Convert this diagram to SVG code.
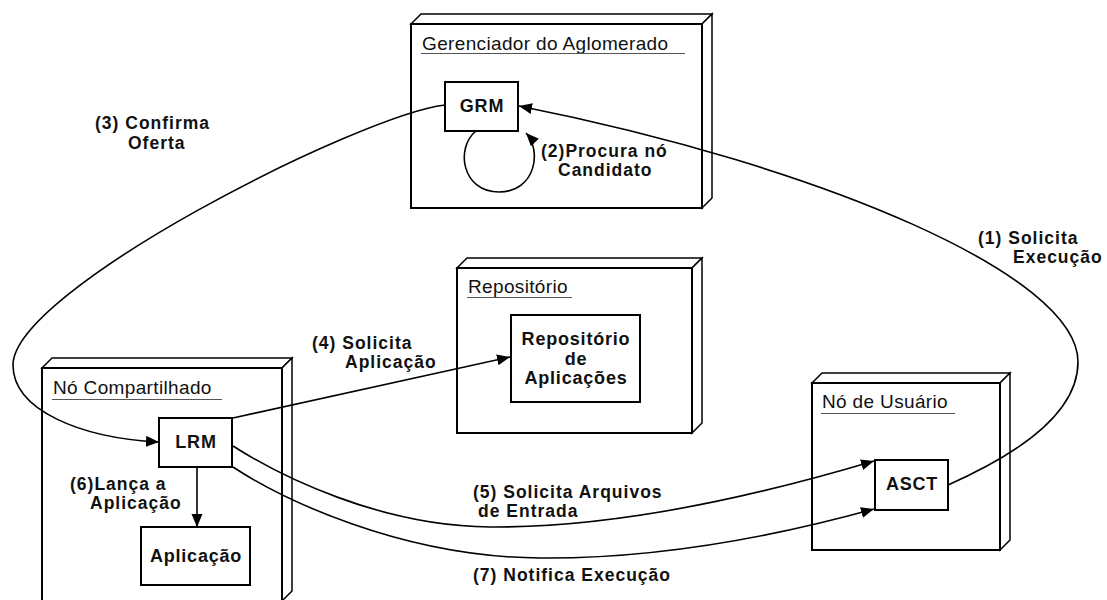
<svg xmlns="http://www.w3.org/2000/svg" width="1107" height="600" viewBox="0 0 1107 600">
<defs>
<marker id="arr" markerUnits="userSpaceOnUse" markerWidth="14" markerHeight="12" refX="13" refY="5.5" orient="auto">
<path d="M0,0 L13,5.5 L0,11 z" fill="#000"/>
</marker>
<style>
.bg{fill:#fff}
.front{fill:#fff;stroke:#000;stroke-width:2}
.side{fill:#fff;stroke:#000;stroke-width:1.5;stroke-linejoin:miter}
.box{fill:#fff;stroke:#000;stroke-width:2}
.title{font-family:"Liberation Sans",Arial,sans-serif;font-size:19px;letter-spacing:0.35px;fill:#111}
.ul{stroke:#555;stroke-width:1.2}
.lbl{font-family:"Liberation Sans",Arial,sans-serif;font-size:17.5px;font-weight:bold;letter-spacing:1px;fill:#111}
.nt{font-family:"Liberation Sans",Arial,sans-serif;font-size:18px;font-weight:bold;letter-spacing:0.8px;fill:#111;text-anchor:middle}
.con{fill:none;stroke:#000;stroke-width:1.6;marker-end:url(#arr)}
</style>
</defs>
<rect class="bg" x="0" y="0" width="1107" height="600"/>

<g id="gerenciador">
<path class="side" d="M411,24 L421,14 L712,14 L702,24 Z"/>
<path class="side" d="M702,24 L712,14 L712,198 L702,208 Z"/>
<rect class="front" x="411" y="24" width="291" height="184"/>
<text class="title" x="422" y="50">Gerenciador do Aglomerado</text>
<line class="ul" x1="421" y1="53.5" x2="685" y2="53.5"/>
</g>

<g id="repositorio">
<path class="side" d="M457,268 L467,258 L702,258 L692,268 Z"/>
<path class="side" d="M692,268 L702,258 L702,423 L692,433 Z"/>
<rect class="front" x="457" y="268" width="235" height="165"/>
<text class="title" x="468" y="293">Repositório</text>
<line class="ul" x1="467" y1="297.5" x2="572" y2="297.5"/>
</g>

<g id="no-compartilhado">
<path class="side" d="M42,368 L52,358 L292,358 L282,368 Z"/>
<path class="side" d="M282,368 L292,358 L292,591 L282,601 Z"/>
<rect class="front" x="42" y="368" width="240" height="234"/>
<text class="title" x="53" y="394">Nó Compartilhado</text>
<line class="ul" x1="52" y1="399.5" x2="222" y2="399.5"/>
</g>

<g id="no-usuario">
<path class="side" d="M812,383 L822,373 L1010,373 L1000,383 Z"/>
<path class="side" d="M1000,383 L1010,373 L1010,540 L1000,550 Z"/>
<rect class="front" x="812" y="383" width="188" height="167"/>
<text class="title" x="822" y="408">Nó de Usuário</text>
<line class="ul" x1="821" y1="413.5" x2="955" y2="413.5"/>
</g>

<g id="grm">
<rect class="box" x="445" y="82" width="73" height="49"/>
<text class="nt" x="482" y="112">GRM</text>
</g>

<g id="repo-aplicacoes">
<rect class="box" x="511" y="315" width="129" height="87"/>
<text class="nt" x="576" y="345">Repositório</text>
<text class="nt" x="576" y="364.5">de</text>
<text class="nt" x="576" y="384">Aplicações</text>
</g>

<g id="lrm">
<rect class="box" x="159" y="418" width="73" height="49"/>
<text class="nt" x="196" y="448">LRM</text>
</g>

<g id="aplicacao">
<rect class="box" x="141" y="527" width="109" height="58"/>
<text class="nt" x="196" y="562">Aplicação</text>
</g>

<g id="asct">
<rect class="box" x="875" y="460" width="73" height="50"/>
<text class="nt" x="912" y="490">ASCT</text>
</g>

<g id="connectors">
<path class="con" d="M948,485 C1000,462 1078,420 1078,362 C1078,275 821,166 519,106"/>
<path class="con" d="M476,131 C455,148 462,192 499,192 C536,192 542,150 526,133"/>
<path class="con" d="M445,105 C360,115 13,290 13,365 C13,410 80,438 159,442"/>
<path class="con" d="M233,418 L510,357"/>
<path class="con" d="M233,446 C280,476 380,526 490,527 C620,528 760,495 874,461"/>
<path class="con" d="M197,467 L197,527"/>
<path class="con" d="M233,467 C280,498 400,557 540,558 C660,559 780,535 874,509"/>
</g>

<g id="labels">
<text class="lbl" x="95" y="129">(3) Confirma</text>
<text class="lbl" x="128" y="149">Oferta</text>
<text class="lbl" x="541" y="157">(2)Procura nó</text>
<text class="lbl" x="558" y="176">Candidato</text>
<text class="lbl" x="978" y="244">(1) Solicita</text>
<text class="lbl" x="1013" y="263">Execução</text>
<text class="lbl" x="312" y="349">(4) Solicita</text>
<text class="lbl" x="345" y="368">Aplicação</text>
<text class="lbl" x="70" y="490">(6)Lança a</text>
<text class="lbl" x="90" y="509">Aplicação</text>
<text class="lbl" x="473" y="498">(5) Solicita Arquivos</text>
<text class="lbl" x="478" y="517">de Entrada</text>
<text class="lbl" x="473" y="581">(7) Notifica Execução</text>
</g>
</svg>
